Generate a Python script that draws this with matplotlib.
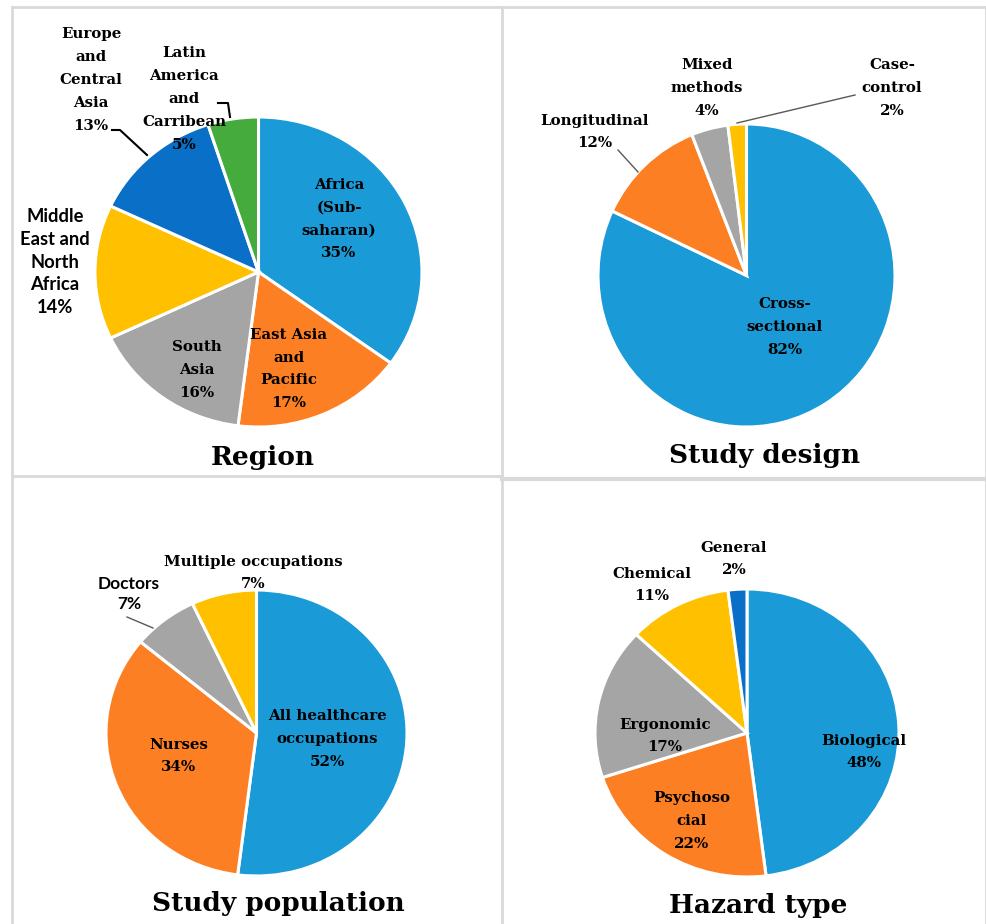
import matplotlib
matplotlib.use("Agg")
import matplotlib.pyplot as plt
from matplotlib.lines import Line2D

W, H = 987, 924

# ---------------- data ----------------
region_labels = ["Africa\n(Sub-\nsaharan)", "East Asia\nand\nPacific", "South\nAsia",
                 "Middle\nEast and\nNorth\nAfrica", "Europe\nand\nCentral\nAsia",
                 "Latin\nAmerica\nand\nCarribean"]
region_values = [35, 17, 16, 14, 13, 5]

design_labels = ["Cross-\nsectional", "Longitudinal", "Mixed\nmethods", "Case-\ncontrol"]
design_values = [82, 12, 4, 2]

population_labels = ["All healthcare\noccupations", "Nurses", "Doctors", "Multiple occupations"]
population_values = [52, 34, 7, 7]

hazard_labels = ["Biological", "Psychoso\ncial", "Ergonomic", "Chemical", "General"]
hazard_values = [48, 22, 17, 11, 2]

titles = ["Region", "Study design", "Study population", "Hazard type"]

# ---------------- styles / layout ----------------
BLUE = "#1A9AD7"
ORANGE = "#FD7F23"
GRAY = "#A5A5A5"
YELLOW = "#FFC000"
DBLUE = "#0A6FC6"
GREEN = "#45AB3D"

region_colors = [BLUE, ORANGE, GRAY, YELLOW, DBLUE, GREEN]
design_colors = [BLUE, ORANGE, GRAY, YELLOW]
population_colors = [BLUE, ORANGE, GRAY, YELLOW]
hazard_colors = [BLUE, ORANGE, GRAY, YELLOW, DBLUE]

SERIF = ["DejaVu Serif"]
SANS = ["Lato", "DejaVu Sans"]
LSIZE = 10.8
LSPACE = 1.8

fig = plt.figure(figsize=(W / 100, H / 100), dpi=100)
fig.patch.set_facecolor("white")


def fx(x):
    return x / W


def fy(y):
    return 1 - y / H


def pie_axes(box, values, colors):
    x0, y0, x1, y1 = box
    ax = fig.add_axes([fx(x0), fy(y1), (x1 - x0) / W, (y1 - y0) / H])
    ax.pie(values, colors=colors, startangle=90, counterclock=False,
           wedgeprops=dict(edgecolor="white", linewidth=2.2))
    ax.set_aspect("auto")
    ax.set_xlim(-1, 1)
    ax.set_ylim(-1, 1)
    ax.axis("off")
    return ax


def label(x, y, text, size=LSIZE, fam=SERIF, ls=LSPACE):
    fig.text(fx(x), fy(y), text, ha="center", va="center", fontsize=size,
             fontweight="bold", family=fam, linespacing=ls, color="black")


def leader(xs, ys, color="black", lw=1.5):
    fig.add_artist(Line2D([fx(v) for v in xs], [fy(v) for v in ys],
                          transform=fig.transFigure, color=color, lw=lw))


# panel borders
bc = "#D9D9D9"
leader([12, 12], [7, 924], bc, 2)
leader([12, 986], [7, 7], bc, 2)
leader([986, 986], [7, 924], bc, 2)
leader([502, 502], [7, 924], bc, 2)
leader([12, 502], [476, 476], bc, 2)
leader([502, 986], [479, 479], bc, 3)

# pies
pie_axes((95, 117, 422, 427), region_values, region_colors)
pie_axes((598, 124, 895, 427), design_values, design_colors)
pie_axes((106, 590, 407, 876), population_values, population_colors)
pie_axes((595, 589, 899, 877), hazard_values, hazard_colors)

pct = lambda v: f"{v}%"

# Region labels
label(339, 219, region_labels[0] + "\n" + pct(region_values[0]))
label(289, 369, region_labels[1] + "\n" + pct(region_values[1]))
label(197, 370, region_labels[2] + "\n" + pct(region_values[2]))
label(55, 262, region_labels[3] + "\n" + pct(region_values[3]), fam=SANS, size=13.2, ls=1.4)
label(91, 80, region_labels[4] + "\n" + pct(region_values[4]))
label(184, 99, region_labels[5] + "\n" + pct(region_values[5]))
leader([112, 120, 147], [130, 130, 155])
leader([218, 228, 230], [103, 103, 117])

# Study design labels
label(785, 327, design_labels[0] + "\n" + pct(design_values[0]))
label(595, 132, design_labels[1] + "\n" + pct(design_values[1]))
label(707, 88, design_labels[2] + "\n" + pct(design_values[2]))
label(892, 88, design_labels[3] + "\n" + pct(design_values[3]))
leader([618, 638], [150, 172], "#595959", 1)
leader([855, 737], [95, 123], "#595959", 1)

# Study population labels
label(327, 739, population_labels[0] + "\n" + pct(population_values[0]))
label(179, 756, population_labels[1] + "\n" + pct(population_values[1]))
label(129, 594, population_labels[2] + "\n" + pct(population_values[2]), fam=SANS, size=12.5, ls=1.33)
label(253, 573, population_labels[3] + "\n" + pct(population_values[3]))
leader([127, 153], [617, 628], "#595959", 1)

# Hazard labels
label(864, 752, hazard_labels[0] + "\n" + pct(hazard_values[0]))
label(692, 821, hazard_labels[1] + "\n" + pct(hazard_values[1]))
label(665, 736, hazard_labels[2] + "\n" + pct(hazard_values[2]))
label(652, 585, hazard_labels[3] + "\n" + pct(hazard_values[3]))
label(734, 559, hazard_labels[4] + "\n" + pct(hazard_values[4]))

# Titles
for (x, y), t in zip([(263, 457), (765, 455), (278, 903), (758, 905)], titles):
    fig.text(fx(x), fy(y), t, ha="center", va="center", fontsize=19,
             fontweight="bold", family=SERIF, color="black")

fig.savefig("out.png", dpi=100, facecolor="white")
